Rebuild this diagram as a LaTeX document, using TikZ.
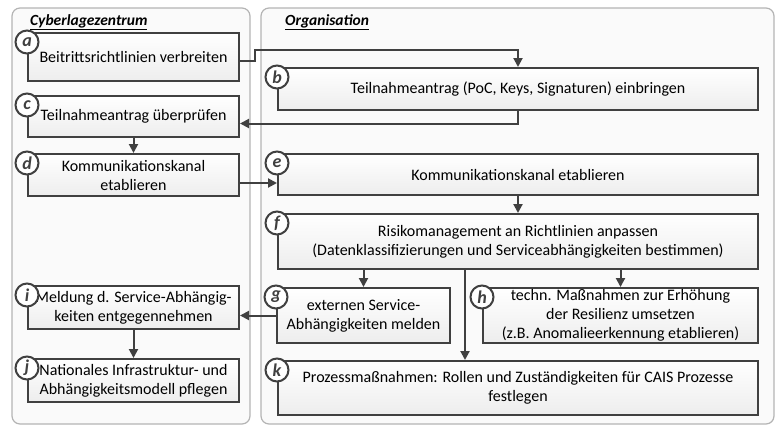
\documentclass[tikz,border=0pt]{standalone}
\usepackage{fontspec}
\setmainfont{Carlito}
\usepackage{tikz}
\usetikzlibrary{calc,positioning,arrows.meta}
\definecolor{linegray}{RGB}{64,64,64}
\definecolor{lanegray}{RGB}{180,180,180}
\tikzset{
    lane/.style={
    rectangle,rounded corners=8pt,draw=lanegray,fill=gray!4,line width=1.2pt
    },
    task/.style={
    rectangle,draw=linegray,line width=2pt,top color=white,bottom color=gray!14,
    inner sep=0pt,align=center,font=\fontsize{16}{19}\selectfont
    },
    tag/.style={
    circle,draw=linegray,fill=white,line width=2pt,minimum size=23pt,inner sep=0pt,
    font=\fontsize{18}{18}\selectfont\bfseries\itshape,text=linegray
    },
    title/.style={anchor=west,inner sep=0pt,font=\fontsize{15.5}{17}\selectfont\bfseries\itshape},
  flow/.style={draw=linegray, line width=2pt, -{Triangle[length=9pt,width=9pt]}},
}
\begin{document}
\begin{tikzpicture}[x=1pt,y=-1pt]
\useasboundingbox (0,0) rectangle (776,429);
  % swimlanes
  \draw[lane] (12,8) rectangle (250,424);
  \draw[lane] (261,8) rectangle (774,424);
  \node[title] (tcz) at (30,22) {\underline{Cyberlagezentrum}};
  \node[title] (torg) at (285,22) {\underline{Organisation}};

  % Cyberlagezentrum
  \node[task,minimum width=211pt,minimum height=48pt] (a) at (133.5,57) {\raisebox{-5pt}{Beitrittsrichtlinien verbreiten}};
  \node[task,minimum width=211pt,minimum height=41pt] (c) at (133.5,116.5) {Teilnahmeantrag überprüfen};
  \node[task,minimum width=211pt,minimum height=42pt] (d) at (133.5,175) {Kommunikationskanal\\etablieren};
  \node[task,minimum width=211pt,minimum height=43pt] (i) at (133.5,307.5) {Meldung d. Service-Abhängig-\\keiten entgegennehmen};
  \node[task,minimum width=211pt,minimum height=43pt] (j) at (133.5,380.5) {Nationales Infrastruktur- und\\Abhängigkeitsmodell pflegen};

  % Organisation
  \node[task,minimum width=480pt,minimum height=42pt] (b) at (518,89) {Teilnahmeantrag (PoC, Keys, Signaturen) einbringen};
  \node[task,minimum width=480pt,minimum height=41pt] (e) at (518,174.5) {Kommunikationskanal etablieren};
  \node[task,minimum width=480pt,minimum height=55pt] (f) at (518,241.5) {Risikomanagement an Richtlinien anpassen\\(Datenklassifizierungen und Serviceabhängigkeiten bestimmen)};
  \node[task,minimum width=173pt,minimum height=55pt] (g) at (363.5,315.5) {externen Service-\\Abhängigkeiten melden};
  \node[task,minimum width=275pt,minimum height=55pt] (h) at (620.5,315.5) {techn. Maßnahmen zur Erhöhung\\der Resilienz umsetzen\\(z.B. Anomalieerkennung etablieren)};
  \node[task,minimum width=480pt,minimum height=54pt] (k) at (518,388) {Prozessmaßnahmen: Rollen und Zuständigkeiten für CAIS Prozesse\\festlegen};

  % step letters
  \foreach \s in {a,b,c,d,e,f,g,h,i,j,k}
    \node[tag] (tag\s) at ([yshift=-10pt]\s.north west) {\s};

  % connectors
  \coordinate (ab) at (255,50);
  \path[flow] ([yshift=-4pt]a.east) -| (ab) -| (b.north);
  \path[flow] (b.south) |- ([yshift=-7pt]c.east);
  \path[flow] (c.south) -- (d.north);
  \path[flow] ([yshift=-8pt]d.east) -- ([yshift=-8pt]d.east -| e.west);
  \path[flow] (e.south) -- (f.north);
  \path[flow] (g.north |- f.south) -- (g.north);
  \path[flow] (h.north |- f.south) -- (h.north);
  \path[flow] ([xshift=-53pt]f.south) -- ([xshift=-53pt]f.south |- k.north);
  \path[flow] (g.west) -- (g.west -| i.east);
  \path[flow] (i.south) -- (j.north);
\end{tikzpicture}
\end{document}
